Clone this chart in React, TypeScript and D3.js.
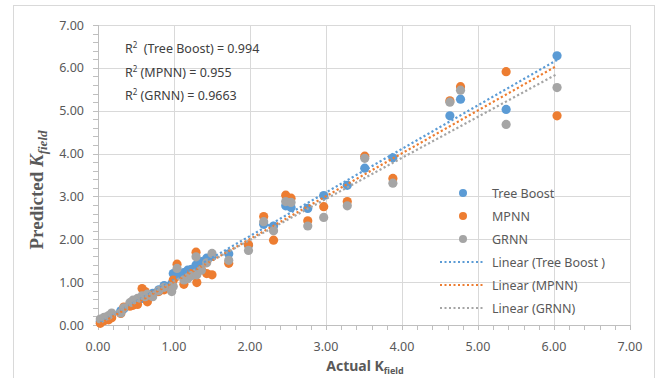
import React, { useRef, useEffect } from "react";
import * as d3 from "d3";

// actual K_field for each sample, and predictions of the three models
const actual = [
  0.03, 0.08, 0.14, 0.18, 0.3, 0.34, 0.42, 0.46, 0.52, 0.58, 0.62, 0.65, 0.72, 0.8, 0.87, 0.97, 0.99, 1.04, 1.13,
  1.18, 1.23, 1.29, 1.3, 1.36, 1.43, 1.5, 1.72, 1.98, 2.18, 2.31, 2.47, 2.54, 2.76, 2.97, 3.28, 3.51, 3.88, 4.63,
  4.77, 5.37, 6.04,
];
const treeBoost = [
  0.08, 0.12, 0.16, 0.22, 0.33, 0.38, 0.47, 0.52, 0.56, 0.62, 0.66, 0.64, 0.74, 0.82, 0.92, 0.96, 1.2, 1.16, 1.22,
  1.28, 1.3, 1.4, 1.36, 1.48, 1.56, 1.6, 1.66, 1.86, 2.35, 2.31, 2.78, 2.74, 2.72, 3.02, 3.26, 3.66, 3.9, 4.88,
  5.27, 5.03, 6.28,
];
const mpnn = [
  0.04, 0.1, 0.12, 0.17, 0.27, 0.42, 0.44, 0.46, 0.48, 0.85, 0.78, 0.54, 0.7, 0.78, 0.82, 0.88, 1.05, 1.42, 0.95,
  1.1, 1.2, 1.7, 0.99, 1.3, 1.2, 1.17, 1.44, 1.87, 2.53, 1.98, 3.03, 2.96, 2.43, 2.76, 2.88, 3.94, 3.42, 5.23,
  5.56, 5.91, 4.88,
];
const grnn = [
  0.14, 0.18, 0.22, 0.28, 0.28, 0.4, 0.52, 0.58, 0.62, 0.68, 0.66, 0.72, 0.66, 0.8, 0.88, 0.78, 0.9, 1.32, 1.05,
  1.08, 1.15, 1.59, 1.17, 1.28, 1.45, 1.67, 1.51, 1.74, 2.41, 2.2, 2.88, 2.86, 2.31, 2.51, 2.78, 3.89, 3.31, 5.2,
  5.48, 4.68, 5.54,
];

const seriesNames = ["Tree Boost", "MPNN", "GRNN"];
const trendNames = ["Linear (Tree Boost )", "Linear (MPNN)", "Linear (GRNN)"];
const r2Labels = ["(Tree Boost) = 0.994", "(MPNN) = 0.955", "(GRNN) = 0.9663"];
const ticks = [0, 1, 2, 3, 4, 5, 6, 7];

const colors = ["#5B9BD5", "#ED7D31", "#A5A5A5"];

const fit = (xs: number[], ys: number[]) => {
  const mx = d3.mean(xs) as number;
  const my = d3.mean(ys) as number;
  let num = 0;
  let den = 0;
  xs.forEach((x, i) => {
    num += (x - mx) * (ys[i] - my);
    den += (x - mx) * (x - mx);
  });
  const slope = num / den;
  return { slope, intercept: my - slope * mx };
};

const App = () => {
  const ref = useRef<HTMLDivElement>(null);
  const width = 659;
  const height = 378;

  useEffect(() => {
    d3.select(ref.current).select("svg").remove();

    const svg = d3
      .select(ref.current)
      .append("svg")
      .attr("width", width)
      .attr("height", height)
      .style("position", "absolute")
      .style("left", 0)
      .style("top", 0)
      .style("font-family", "'Noto Sans', sans-serif");

    svg.append("rect").attr("width", width).attr("height", height).attr("fill", "#fff");
    // chart border
    svg
      .append("rect")
      .attr("x", 13.5)
      .attr("y", 5.5)
      .attr("width", 641)
      .attr("height", 390)
      .attr("fill", "none")
      .attr("stroke", "#d9d9d9");

    const x = d3.scaleLinear().domain([0, 7]).range([98, 630]);
    const y = d3.scaleLinear().domain([0, 7]).range([325, 25]);

    // gridlines
    const grid = svg.append("g").attr("stroke", "#d9d9d9").attr("stroke-width", 1);
    ticks.slice(1).forEach((t) => {
      grid
        .append("line")
        .attr("x1", x(0))
        .attr("x2", x(7))
        .attr("y1", Math.round(y(t)) + 0.5)
        .attr("y2", Math.round(y(t)) + 0.5);
      grid
        .append("line")
        .attr("y1", y(0))
        .attr("y2", y(7))
        .attr("x1", Math.round(x(t)) + 0.5)
        .attr("x2", Math.round(x(t)) + 0.5);
    });

    // axes with minor ticks
    const minor = d3.range(0, 7.01, 0.2);
    const axes = svg.append("g").attr("stroke", "#bfbfbf").attr("stroke-width", 1);
    axes.append("line").attr("x1", x(0)).attr("x2", x(7)).attr("y1", y(0) + 0.5).attr("y2", y(0) + 0.5);
    axes.append("line").attr("x1", x(0) + 0.5).attr("x2", x(0) + 0.5).attr("y1", y(0)).attr("y2", y(7));
    minor.forEach((t) => {
      axes
        .append("line")
        .attr("x1", Math.round(x(t)) + 0.5)
        .attr("x2", Math.round(x(t)) + 0.5)
        .attr("y1", y(0))
        .attr("y2", y(0) + 5);
      axes
        .append("line")
        .attr("x1", x(0) - 5)
        .attr("x2", x(0))
        .attr("y1", Math.round(y(t)) + 0.5)
        .attr("y2", Math.round(y(t)) + 0.5);
    });

    // tick labels
    ticks.forEach((t) => {
      svg
        .append("text")
        .attr("x", 84)
        .attr("y", y(t) + 4.5)
        .attr("text-anchor", "end")
        .attr("font-size", 12.5)
        .attr("fill", "#595959")
        .text(t.toFixed(2));
      svg
        .append("text")
        .attr("x", x(t))
        .attr("y", 351)
        .attr("text-anchor", "middle")
        .attr("font-size", 12.5)
        .attr("fill", "#595959")
        .text(t.toFixed(2));
    });

    // points
    const preds = [treeBoost, mpnn, grnn];
    preds.forEach((vals, s) => {
      svg
        .append("g")
        .selectAll("circle")
        .data(vals)
        .join("circle")
        .attr("cx", (_d, i) => x(actual[i]))
        .attr("cy", (d) => y(d))
        .attr("r", 4.6)
        .attr("fill", colors[s]);
    });

    // linear trendlines
    const [x0, x1] = d3.extent(actual) as [number, number];
    preds.forEach((vals, s) => {
      const { slope, intercept } = fit(actual, vals);
      svg
        .append("line")
        .attr("x1", x(x0))
        .attr("y1", y(slope * x0 + intercept))
        .attr("x2", x(x1))
        .attr("y2", y(slope * x1 + intercept))
        .attr("stroke", colors[s])
        .attr("stroke-width", 2.2)
        .attr("stroke-dasharray", "2.2 2.4");
    });

    // R² annotations
    r2Labels.forEach((lbl, i) => {
      const t = svg
        .append("text")
        .attr("x", 125)
        .attr("y", 53 + i * 23.5)
        .attr("font-size", 12.5)
        .attr("fill", "#404040");
      t.append("tspan").text("R");
      t.append("tspan").attr("font-size", 8).attr("dy", -5).text("2");
      t.append("tspan").attr("dy", 5).text(i === 0 ? "\u00a0 " + lbl : " " + lbl);
    });

    // legend
    const legend = svg.append("g");
    seriesNames.forEach((name, i) => {
      const ly = 193 + i * 23;
      legend.append("circle").attr("cx", 463).attr("cy", ly).attr("r", 4).attr("fill", colors[i]);
      legend
        .append("text")
        .attr("x", 492)
        .attr("y", ly + 5)
        .attr("font-size", 12.5)
        .attr("fill", "#595959")
        .text(name);
    });
    trendNames.forEach((name, i) => {
      const ly = 262 + i * 23;
      legend
        .append("line")
        .attr("x1", 440)
        .attr("x2", 485)
        .attr("y1", ly)
        .attr("y2", ly)
        .attr("stroke", colors[i])
        .attr("stroke-width", 2)
        .attr("stroke-dasharray", "2 2.5");
      legend
        .append("text")
        .attr("x", 492)
        .attr("y", ly + 5)
        .attr("font-size", 12.5)
        .attr("fill", "#595959")
        .text(name);
    });

    // axis titles
    const yt = svg
      .append("text")
      .attr("transform", "translate(43,190) rotate(-90)")
      .attr("text-anchor", "middle")
      .attr("font-family", "'Liberation Serif', serif")
      .attr("font-weight", "bold")
      .attr("font-size", 19)
      .attr("fill", "#595959");
    yt.append("tspan").text("Predicted ");
    yt.append("tspan").attr("font-style", "italic").text("K");
    yt.append("tspan").attr("font-style", "italic").attr("font-size", 13).attr("dy", 4).text("field");

    const xt = svg
      .append("text")
      .attr("x", 365)
      .attr("y", 371)
      .attr("text-anchor", "middle")
      .attr("font-weight", "bold")
      .attr("font-size", 14)
      .attr("fill", "#595959");
    xt.append("tspan").text("Actual K");
    xt.append("tspan").attr("font-size", 9).attr("dy", 2.5).text("field");
  }, []);

  return <div ref={ref} />;
};

export default App;
